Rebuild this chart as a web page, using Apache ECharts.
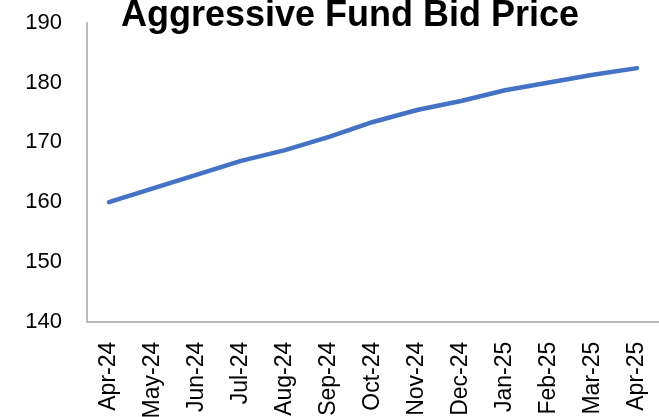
<!DOCTYPE html>
<html><head><meta charset="utf-8">
<script src="https://cdn.jsdelivr.net/npm/echarts@6/dist/echarts.min.js"></script>
<style>html,body{margin:0;padding:0;background:#fff}#c{width:659px;height:417px}</style>
</head><body><div id="c"></div>
<script>
const categories = ["Apr-24","May-24","Jun-24","Jul-24","Aug-24","Sep-24","Oct-24","Nov-24","Dec-24","Jan-25","Feb-25","Mar-25","Apr-25"];
const bidPrice = [160.0,162.3,164.6,166.9,168.7,170.9,173.4,175.4,176.9,178.7,180.0,181.3,182.4];
const chartTitle = "Aggressive Fund Bid Price";
const yMin = 140, yMax = 190, yStep = 10;

const chart = echarts.init(document.getElementById('c'), null, {renderer:'canvas'});
chart.setOption({
  animation:false,
  backgroundColor:'#fff',
  title:{text:chartTitle,left:116,top:-7,
    textStyle:{fontFamily:'Liberation Sans',fontWeight:'bold',fontSize:36,color:'#000'}},
  grid:{left:87,right:0,top:22.7,bottom:95.3,containLabel:false,outerBoundsMode:'none'},
  xAxis:{type:'category',data:categories,boundaryGap:true,
    axisLine:{lineStyle:{color:'#a6a6a6',width:1.5}},
    axisTick:{show:false},
    axisLabel:{rotate:90,margin:20,fontFamily:'Liberation Sans',fontSize:23,color:'#000',interval:0}},
  yAxis:{type:'value',min:yMin,max:yMax,interval:yStep,
    axisLine:{show:true,lineStyle:{color:'#a6a6a6',width:1.5}},
    axisTick:{show:false},splitLine:{show:false},
    axisLabel:{margin:25,fontFamily:'Liberation Sans',fontSize:22,color:'#000'}},
  series:[{type:'line',data:bidPrice,symbol:'none',smooth:false,
    lineStyle:{color:'#4472C4',width:4.5,cap:'round',join:'round'}}]
});
</script></body></html>
